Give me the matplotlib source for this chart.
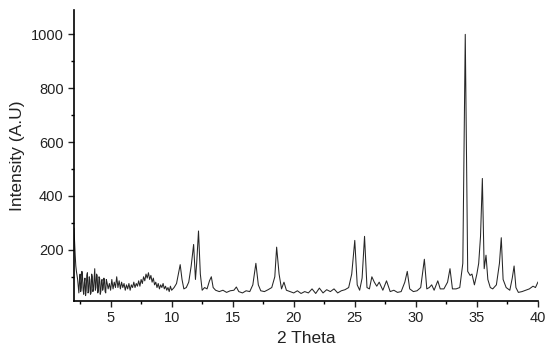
import matplotlib
matplotlib.use("Agg")
import matplotlib.pyplot as plt
from matplotlib.ticker import MultipleLocator

plt.rcParams['font.family'] = ['Liberation Sans', 'DejaVu Sans']

# low-angle region (noisy background + amorphous hump)
theta_low = [2.0, 2.05, 2.1, 2.15, 2.2, 2.3, 2.4, 2.45, 2.5, 2.55, 2.6, 2.65, 2.7, 2.75, 2.8,
             2.85, 2.9, 2.95, 3.0, 3.05, 3.1, 3.15, 3.2, 3.25, 3.3, 3.35, 3.4, 3.45, 3.5,
             3.55, 3.6, 3.65, 3.7, 3.75, 3.8, 3.85, 3.9, 3.95, 4.0, 4.05, 4.1, 4.15, 4.2,
             4.25, 4.3, 4.35, 4.4, 4.45, 4.5, 4.55, 4.6, 4.65, 4.7, 4.8, 4.9,
             5.0, 5.1, 5.2, 5.3, 5.4, 5.5, 5.6, 5.7, 5.8, 5.9, 6.0, 6.1, 6.2, 6.3, 6.4, 6.5,
             6.6, 6.7, 6.8, 6.9, 7.0, 7.1, 7.2, 7.3, 7.4, 7.5, 7.6, 7.7, 7.8, 7.9, 8.0, 8.1,
             8.2, 8.3, 8.4, 8.5, 8.6, 8.7, 8.8, 8.9, 9.0, 9.1, 9.2, 9.3, 9.4, 9.5, 9.6, 9.7,
             9.8, 9.9, 10.0]
int_low = [280, 230, 180, 140, 120, 90, 40, 85, 110, 45, 60, 120, 100, 50, 35,
           80, 95, 30, 50, 105, 115, 40, 45, 100, 90, 35, 40, 110, 100,
           45, 55, 95, 130, 50, 60, 110, 105, 40, 50, 100, 95, 35, 45,
           85, 90, 50, 60, 95, 85, 45, 40, 90, 80, 55, 75,
           50, 90, 55, 80, 60, 100, 60, 85, 55, 80, 60, 75, 50, 70, 55, 75,
           50, 70, 60, 80, 60, 75, 65, 85, 65, 90, 75, 100, 85, 110, 95, 115,
           90, 105, 80, 95, 70, 80, 60, 75, 55, 70, 60, 75, 55, 65, 50, 60,
           45, 65, 50]

# peak region
theta_high = [10.2, 10.4, 10.55, 10.7, 10.85, 11.0, 11.2, 11.4, 11.6, 11.8, 11.95, 12.05, 12.2,
              12.35, 12.5, 12.7, 12.9, 13.1, 13.25, 13.4, 13.6, 13.9, 14.2, 14.5, 14.8, 15.1,
              15.3, 15.5, 15.8, 16.1, 16.4, 16.65, 16.9, 17.1, 17.3, 17.6, 17.9, 18.2, 18.45,
              18.6, 18.8, 19.0, 19.2, 19.4, 19.7, 20.0, 20.3, 20.6, 20.9, 21.2, 21.5, 21.8,
              22.1, 22.4, 22.7, 23.0, 23.3, 23.6, 23.9, 24.2, 24.5, 24.75, 25.0, 25.2, 25.4,
              25.6, 25.8, 26.0, 26.2, 26.4, 26.6, 26.8, 27.0, 27.3, 27.6, 27.9, 28.2, 28.5,
              28.8, 29.1, 29.3, 29.5, 29.8, 30.1, 30.4, 30.7, 30.9, 31.1, 31.3, 31.5, 31.8,
              32.0, 32.3, 32.6, 32.8, 33.0, 33.3, 33.6, 33.85, 34.05, 34.25, 34.45, 34.6,
              34.8, 35.0, 35.15, 35.3, 35.45, 35.6, 35.75, 35.9, 36.1, 36.3, 36.6, 36.85,
              37.0, 37.15, 37.4, 37.7, 37.9, 38.05, 38.2, 38.4, 38.7, 39.0, 39.3, 39.6,
              39.8, 40.0]
int_high = [60, 75, 110, 145, 90, 55, 60, 80, 140, 220, 90, 150, 270,
            110, 50, 60, 55, 85, 100, 60, 50, 45, 50, 42, 48, 50,
            62, 45, 40, 48, 45, 70, 150, 70, 48, 45, 52, 60, 100,
            210, 110, 55, 80, 50, 45, 40, 48, 38, 45, 40, 55, 38,
            58, 40, 52, 45, 55, 40, 48, 52, 60, 110, 235, 70, 50,
            95, 250, 60, 55, 100, 80, 65, 80, 50, 85, 45, 50, 42,
            45, 80, 120, 55, 45, 48, 60, 165, 55, 60, 70, 50, 85,
            55, 55, 80, 130, 55, 55, 60, 150, 1000, 120, 105, 110,
            70, 110, 150, 250, 465, 130, 180, 90, 60, 55, 70, 150,
            245, 90, 60, 50, 95, 140, 60, 42, 45, 50, 55, 65,
            60, 80]

two_theta = theta_low + theta_high
intensity = int_low + int_high

fig = plt.figure(figsize=(5.5, 3.49), dpi=100)
ax = fig.add_axes([0.1345, 0.1375, 0.8435, 0.8335])
ax.plot(two_theta, intensity, color='#262626', lw=0.75)

ax.set_xlim(2, 40)
ax.set_ylim(10, 1090)
ax.set_xticks([5, 10, 15, 20, 25, 30, 35, 40])
ax.set_yticks([200, 400, 600, 800, 1000])
ax.xaxis.set_minor_locator(MultipleLocator(2.5))
ax.yaxis.set_minor_locator(MultipleLocator(100))
ax.tick_params(which='major', length=4, width=1, labelsize=10.5, colors='#222222')
ax.tick_params(which='minor', length=2.5, width=1)
ax.spines['top'].set_visible(False)
ax.spines['right'].set_visible(False)
ax.spines['left'].set_linewidth(1.2)
ax.spines['bottom'].set_linewidth(1.2)

ax.set_xlabel('2 Theta', fontsize=12.5, color='#222222')
ax.set_ylabel('Intensity (A.U)', fontsize=12.5, color='#222222')

fig.savefig('out.png', dpi=100)
